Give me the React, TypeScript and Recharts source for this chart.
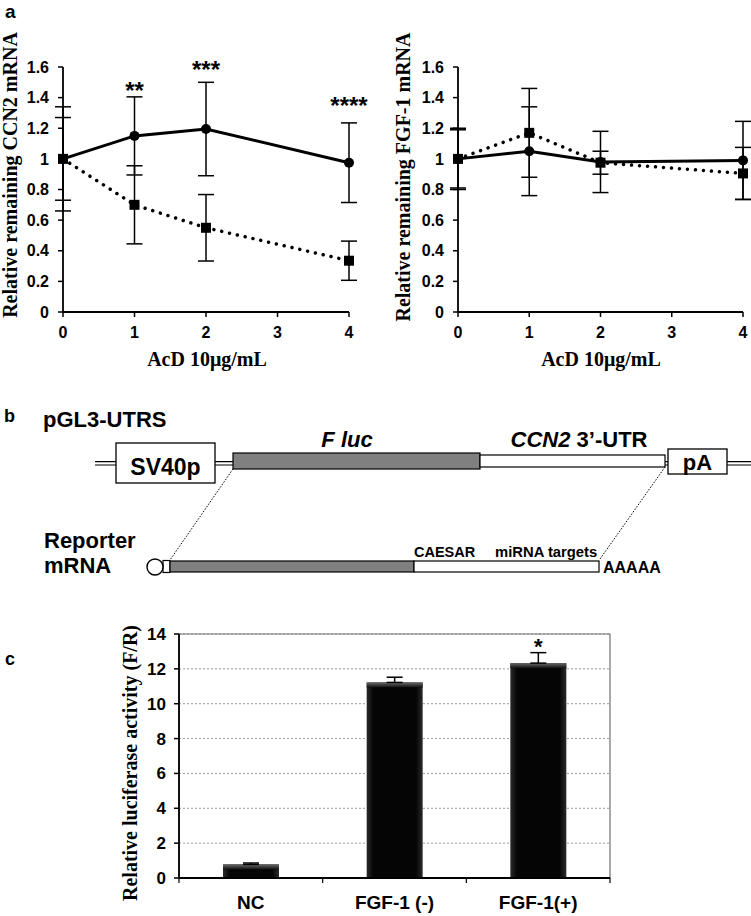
import React from 'react'
import {
  ComposedChart,
  Line,
  Scatter,
  Bar,
  XAxis,
  YAxis,
  CartesianGrid,
  ErrorBar,
  LabelList,
  ReferenceArea,
} from 'recharts'

// panel a: hours after AcD
const hours = [0, 1, 2, 4]
const hourTicks = [0, 1, 2, 3, 4]
const mrnaTicks = [0, 0.2, 0.4, 0.6, 0.8, 1, 1.2, 1.4, 1.6]

// CCN2 mRNA
const ccn2Solid = [1, 1.15, 1.195, 0.975]
const ccn2SolidErr = [0.34, 0.255, 0.305, 0.26]
const ccn2Dotted = [1, 0.7, 0.55, 0.335]
const ccn2DottedErr = [0.27, 0.255, 0.217, 0.128]
const ccn2SigLabels = ['', '**', '***', '****']
const ccn2SigLevels = [0, 1.394, 1.525, 1.296]

// FGF-1 mRNA
const fgfSolid = [1, 1.05, 0.98, 0.99]
const fgfSolidErr = [0.2, 0.29, 0.2, 0.255]
const fgfDotted = [1, 1.17, 0.975, 0.905]
const fgfDottedErr = [0.19, 0.29, 0.075, 0.17]

// panel c: luciferase
const groups = ['NC', 'FGF-1 (-)', 'FGF-1(+)']
const activity = [0.78, 11.22, 12.33]
const activityErr = [0.08, 0.3, 0.6]
const activitySig = ['', '', '*']
const activityTicks = [0, 2, 4, 6, 8, 10, 12, 14]

const SANS = '"Liberation Sans", Arial, sans-serif'
const SERIF = '"Liberation Serif", "Times New Roman", serif'

const series = (vals: number[], errs: number[]) =>
  hours.map((h, i) => ({ x: h, y: vals[i], err: errs[i] }))

const tickStyle = {
  fontFamily: SANS,
  fontWeight: 700,
  fontSize: 16,
  fill: '#000',
  style: { fontWeight: 700 },
}
const axisLine = { stroke: '#000', strokeWidth: 1.8 }

const SquareDot = (p: any) => {
  if (p.cx == null) return <g key={p.key} />
  return <rect key={p.key} x={p.cx - 5} y={p.cy - 5} width={10} height={10} fill="#000" />
}

const StarShape = (p: any) => (
  <text
    x={p.cx}
    y={p.cy}
    textAnchor="middle"
    fontFamily={SANS}
    fontWeight={700}
    fontSize={24}
    fill="#000"
  >
    {p.payload.label}
  </text>
)

function DecayChart({
  solid,
  dotted,
  sig,
  width,
  yAxisWidth,
  right,
  dottedOnTop,
}: {
  solid: { x: number; y: number; err: number }[]
  dotted: { x: number; y: number; err: number }[]
  sig?: { x: number; y: number; label: string }[]
  width: number
  yAxisWidth: number
  right: number
  dottedOnTop: boolean
}) {
  const solidLine = (
    <Line
      key="solid"
      data={solid}
      dataKey="y"
      stroke="#000"
      strokeWidth={3}
      dot={{ r: 5, fill: '#000', stroke: '#000', strokeWidth: 0 }}
      isAnimationActive={false}
    >
      <ErrorBar dataKey="err" width={8} stroke="#000" strokeWidth={1.5} direction="y" />
    </Line>
  )
  const dottedLine = (
    <Line
      key="dotted"
      data={dotted}
      dataKey="y"
      stroke="#000"
      strokeWidth={3.5}
      strokeDasharray="0.01 8"
      strokeLinecap="round"
      dot={SquareDot}
      isAnimationActive={false}
    >
      <ErrorBar dataKey="err" width={8} stroke="#000" strokeWidth={1.5} direction="y" />
    </Line>
  )
  return (
    <ComposedChart
      width={width}
      height={380}
      margin={{ top: 67, right, bottom: 38, left: 0 }}
      style={{ overflow: 'visible' }}
    >
      <XAxis
        dataKey="x"
        type="number"
        domain={[0, 4]}
        ticks={hourTicks}
        allowDuplicatedCategory={false}
        height={30}
        axisLine={axisLine}
        tickLine={{ stroke: '#000', strokeWidth: 1.5 }}
        tickSize={5}
        tickMargin={10}
        tick={tickStyle}
      />
      <YAxis
        type="number"
        domain={[0, 1.6]}
        ticks={mrnaTicks}
        width={yAxisWidth}
        axisLine={axisLine}
        tickLine={{ stroke: '#000', strokeWidth: 1.5 }}
        tickSize={5}
        tickMargin={9}
        tick={tickStyle}
        tickFormatter={(v: number) => String(v)}
      />
      {dottedOnTop ? [solidLine, dottedLine] : [dottedLine, solidLine]}
      {sig && (
        <Scatter data={sig} dataKey="y" shape={StarShape} isAnimationActive={false} />
      )}
    </ComposedChart>
  )
}

const BarShape = (p: any) => {
  const { x, y, width, height } = p
  if (!height || height <= 0) return <g />
  return (
    <g>
      <rect x={x} y={y} width={width} height={height} fill="url(#barBody)" />
      <rect x={x} y={y} width={width} height={Math.min(5, height)} fill="url(#barTop)" />
    </g>
  )
}

const GroupTick = (p: any) => {
  const { x, y, payload, index, visibleTicksCount } = p
  const off = payload?.offset ?? 0
  const last = index === (visibleTicksCount ?? groups.length) - 1
  return (
    <g>
      <line x1={x - off} x2={x - off} y1={y} y2={y + 5} stroke="#000" strokeWidth={1.2} />
      {last && <line x1={x + off} x2={x + off} y1={y} y2={y + 5} stroke="#000" strokeWidth={1.2} />}
      <text
        x={x}
        y={y + 31}
        textAnchor="middle"
        fontFamily={SANS}
        fontWeight={700}
        fontSize={19}
        fill="#000"
      >
        {payload.value}
      </text>
    </g>
  )
}

const SigLabel = (p: any) => {
  if (!p.value) return null
  return (
    <text
      x={p.x + p.width / 2}
      y={p.y - 9}
      textAnchor="middle"
      fontFamily={SANS}
      fontWeight={700}
      fontSize={22}
      fill="#000"
    >
      {p.value}
    </text>
  )
}

function LuciferaseChart() {
  const data = groups.map((g, i) => ({
    name: g,
    value: activity[i],
    err: [0, activityErr[i]],
    sig: activitySig[i],
  }))
  return (
    <ComposedChart
      width={751}
      height={316}
      data={data}
      margin={{ top: 34, right: 141, bottom: 0, left: 0 }}
      style={{ overflow: 'visible' }}
    >
      <defs>
        <linearGradient id="barBody" x1="0" y1="0" x2="1" y2="0">
          <stop offset="0%" stopColor="#2a2a2a" />
          <stop offset="12%" stopColor="#050505" />
          <stop offset="88%" stopColor="#050505" />
          <stop offset="100%" stopColor="#2a2a2a" />
        </linearGradient>
        <linearGradient id="barTop" x1="0" y1="0" x2="0" y2="1">
          <stop offset="0%" stopColor="#6a6a6a" />
          <stop offset="100%" stopColor="#101010" />
        </linearGradient>
      </defs>
      <CartesianGrid vertical={false} stroke="#9a9a9a" strokeDasharray="2 2" />
      <ReferenceArea y1={0} y2={14} fill="none" stroke="#6f6f6f" strokeWidth={1.2} ifOverflow="visible" />
      <XAxis
        dataKey="name"
        height={38}
        axisLine={axisLine}
        tickLine={false}
        tickSize={0}
        tickMargin={0}
        tick={GroupTick}
        interval={0}
      />
      <YAxis
        domain={[0, 14]}
        ticks={activityTicks}
        width={179}
        axisLine={axisLine}
        tickLine={{ stroke: '#000', strokeWidth: 1.5 }}
        tickSize={5}
        tickMargin={8}
        tick={{ ...tickStyle, fontSize: 17 }}
      />
      <Bar dataKey="value" barSize={56} shape={BarShape} isAnimationActive={false}>
        <ErrorBar dataKey="err" width={8} stroke="#000" strokeWidth={1.5} direction="y" />
        <LabelList dataKey="sig" content={SigLabel} />
      </Bar>
    </ComposedChart>
  )
}

function Diagram() {
  const txt = { fontFamily: SANS, fontWeight: 700, fill: '#000' }
  return (
    <g>
      {/* plasmid backbone */}
      <line x1={95} x2={751} y1={461.7} y2={461.7} stroke="#000" strokeWidth={1.2} />
      <line x1={95} x2={751} y1={465} y2={465} stroke="#000" strokeWidth={1.2} />
      <rect x={116} y={443} width={99} height={40} fill="#fff" stroke="#000" strokeWidth={1.3} />
      <text x={165.5} y={475} textAnchor="middle" fontSize={23} {...txt}>SV40p</text>
      <rect x={233} y={453} width={247} height={16} fill="#808080" stroke="#000" strokeWidth={1.2} />
      <rect x={480} y={455} width={185} height={12} fill="#fff" stroke="#000" strokeWidth={1.2} />
      <rect x={668} y={449} width={59} height={25} fill="#fff" stroke="#000" strokeWidth={1.3} />
      <text x={697.5} y={470} textAnchor="middle" fontSize={22} {...txt}>pA</text>
      <text x={347} y={447} textAnchor="middle" fontSize={22} fontStyle="italic" {...txt}>F luc</text>
      <text x={579} y={447} textAnchor="middle" fontSize={22} {...txt}>
        <tspan fontStyle="italic">CCN2</tspan> 3’-UTR
      </text>
      <text x={43} y={427} fontSize={22} {...txt}>pGL3-UTRS</text>

      {/* projection lines */}
      <line x1={233} y1={469} x2={170} y2={560} stroke="#000" strokeWidth={1} strokeDasharray="1.5 1.5" />
      <line x1={665} y1={467} x2={600} y2={559} stroke="#000" strokeWidth={1} strokeDasharray="1.5 1.5" />

      {/* reporter mRNA */}
      <text x={44} y={548} fontSize={22} {...txt}>Reporter</text>
      <text x={44} y={573} fontSize={22} {...txt}>mRNA</text>
      <rect x={163} y={560.5} width={7} height={12} fill="#fff" stroke="#000" strokeWidth={1.2} />
      <circle cx={155} cy={567} r={8} fill="#fff" stroke="#000" strokeWidth={1.4} />
      <rect x={170} y={561} width={244} height={11} fill="#808080" stroke="#000" strokeWidth={1.2} />
      <rect x={414} y={561} width={185} height={11} fill="#fff" stroke="#000" strokeWidth={1.2} />
      <text x={414} y={557} fontSize={14.5} {...txt}>CAESAR</text>
      <text x={495} y={557} fontSize={14.8} {...txt}>miRNA targets</text>
      <text x={603} y={573} fontSize={16} {...txt}>AAAAA</text>
    </g>
  )
}

export default function App() {
  const ccn2Sig = hours
    .map((h, i) => ({ x: h, y: ccn2SigLevels[i], label: ccn2SigLabels[i] }))
    .filter((d) => d.label)

  const title = { fontFamily: SERIF, fontWeight: 700, fontSize: 20, fill: '#000' }
  const panel = { fontFamily: SANS, fontWeight: 700, fill: '#000' }

  return (
    <div style={{ position: 'relative', width: 751, height: 916, background: '#fff', overflow: 'hidden' }}>
      <style>{'body{margin:0}'}</style>
      <div style={{ position: 'absolute', left: 0, top: 0 }}>
        <DecayChart
          solid={series(ccn2Solid, ccn2SolidErr)}
          dotted={series(ccn2Dotted, ccn2DottedErr)}
          sig={ccn2Sig}
          width={380}
          yAxisWidth={63}
          right={31}
          dottedOnTop
        />
      </div>
      <div style={{ position: 'absolute', left: 380, top: 0 }}>
        <DecayChart
          solid={series(fgfSolid, fgfSolidErr)}
          dotted={series(fgfDotted, fgfDottedErr)}
          width={371}
          yAxisWidth={78}
          right={8}
          dottedOnTop={false}
        />
      </div>
      <div style={{ position: 'absolute', left: 0, top: 600 }}>
        <LuciferaseChart />
      </div>
      <svg
        width={751}
        height={916}
        style={{ position: 'absolute', left: 0, top: 0, pointerEvents: 'none' }}
      >
        <text x={5} y={18} fontSize={19} {...panel}>a</text>
        <text x={4} y={422} fontSize={18} {...panel}>b</text>
        <text x={5} y={665} fontSize={18} {...panel}>c</text>

        <text transform="translate(17,175) rotate(-90)" textAnchor="middle" {...title}>
          Relative remaining CCN2 mRNA
        </text>
        <text x={207} y={366} textAnchor="middle" {...title}>AcD 10μg/mL</text>
        <text transform="translate(410,177) rotate(-90)" textAnchor="middle" {...title}>
          Relative remaining FGF-1 mRNA
        </text>
        <text x={601} y={366} textAnchor="middle" {...title}>AcD 10μg/mL</text>
        <text transform="translate(137,763) rotate(-90)" textAnchor="middle" {...title}>
          Relative luciferase activity (F/R)
        </text>

        <Diagram />
      </svg>
    </div>
  )
}
